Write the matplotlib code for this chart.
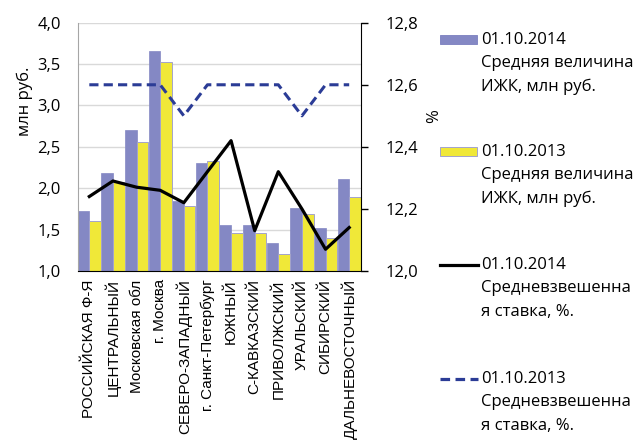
import matplotlib
matplotlib.use("Agg")
import matplotlib.pyplot as plt
import numpy as np
from matplotlib.patches import Rectangle
from matplotlib.lines import Line2D
from matplotlib.ticker import FuncFormatter

plt.rcParams['font.family'] = ['Open Sans', 'DejaVu Sans']

regions = ["РОССИЙСКАЯ Ф-Я", "ЦЕНТРАЛЬНЫЙ", "Московская обл", "г. Москва",
           "СЕВЕРО-ЗАПАДНЫЙ", "г. Санкт-Петербург", "ЮЖНЫЙ", "С-КАВКАЗСКИЙ",
           "ПРИВОЛЖСКИЙ", "УРАЛЬСКИЙ", "СИБИРСКИЙ", "ДАЛЬНЕВОСТОЧНЫЙ"]
size_2014 = [1.72, 2.18, 2.70, 3.66, 1.85, 2.30, 1.55, 1.56, 1.34, 1.76, 1.52, 2.11]
size_2013 = [1.61, 2.08, 2.56, 3.52, 1.79, 2.33, 1.46, 1.46, 1.21, 1.69, 1.40, 1.89]
rate_2014 = [12.24, 12.29, 12.27, 12.26, 12.22, 12.32, 12.42, 12.13, 12.32, 12.20, 12.07, 12.14]
rate_2013 = [12.6, 12.6, 12.6, 12.6, 12.5, 12.6, 12.6, 12.6, 12.6, 12.5, 12.6, 12.6]

BLUE = "#8488c4"
YELLOW = "#f0e838"
DASH = "#2b3c96"

W, H = 644, 447
fig = plt.figure(figsize=(W / 100, H / 100), dpi=100)
ax = fig.add_axes([77.5 / W, 1 - 271 / H, (361 - 77.5) / W, (271 - 22.7) / H])

x = np.arange(len(regions))
bw = 0.49
ax.bar(x - bw / 2, size_2014, bw, color=BLUE, edgecolor=BLUE, linewidth=0.5, zorder=2)
ax.bar(x + bw / 2, size_2013, bw, color=YELLOW, edgecolor="#a3a3cc", linewidth=0.7, zorder=2)

ax.set_xlim(-0.5, len(regions) - 0.5)
ax.set_ylim(1.0, 4.0)
ax.set_yticks(np.arange(1.0, 4.01, 0.5))
ax.yaxis.set_major_formatter(FuncFormatter(lambda v, p: f"{v:.1f}".replace(".", ",")))
ax.grid(axis="y", color="#d9d9d9", linewidth=1.0, zorder=0)
ax.set_axisbelow(True)
ax.tick_params(axis="y", length=0, pad=12, labelsize=12)
ax.set_xticks(x)
ax.set_xticklabels(regions, rotation=90, ha="center", va="top",
                   fontfamily="Liberation Sans", fontsize=11)
ax.tick_params(axis="x", length=0, pad=6)
ax.spines["top"].set_visible(False)
ax.spines["right"].set_visible(False)
ax.spines["left"].set_color("#a6a6a6")
ax.spines["bottom"].set_color("#000000")

ax2 = ax.twinx()
ax2.plot(x, rate_2014, color="black", linewidth=2.3, zorder=3)
ax2.plot(x, rate_2013, color=DASH, linewidth=2.2, dashes=(3, 1.7), zorder=3)
ax2.set_ylim(12.0, 12.8)
ax2.set_yticks(np.arange(12.0, 12.81, 0.2))
ax2.yaxis.set_major_formatter(FuncFormatter(lambda v, p: f"{v:.1f}".replace(".", ",")))
ax2.tick_params(axis="y", length=5, width=1, pad=13, labelsize=12, color="black")
for s in ["top", "left", "bottom"]:
    ax2.spines[s].set_visible(False)
ax2.spines["right"].set_color("black")

fig.text(25 / W, 1 - 101 / H, "млн руб.", rotation=90, ha="center", va="center", fontsize=12)
fig.text(434 / W, 1 - 116 / H, "%", rotation=90, ha="center", va="center", fontsize=12)

# legend drawn by hand so the key sits on the first text line
entries = [
    ("bar", BLUE, BLUE, 40, ["01.10.2014", "Средняя величина", "ИЖК, млн руб."]),
    ("bar", YELLOW, "#a3a3cc", 152, ["01.10.2013", "Средняя величина", "ИЖК, млн руб."]),
    ("solid", "black", None, 265, ["01.10.2014", "Средневзвешенна", "я ставка, %."]),
    ("dash", DASH, None, 379, ["01.10.2013", "Средневзвешенна", "я ставка, %."]),
]
for kind, col, ec, y0, lines in entries:
    if kind == "bar":
        fig.add_artist(Rectangle((440 / W, 1 - (y0 + 4) / H), 37 / W, 9 / H,
                                 facecolor=col, edgecolor=ec, linewidth=0.7,
                                 transform=fig.transFigure))
    else:
        ls = dict(dashes=(3, 1.7)) if kind == "dash" else {}
        fig.add_artist(Line2D([440 / W, 478 / W], [1 - y0 / H, 1 - y0 / H], color=col,
                              linewidth=2.3, transform=fig.transFigure, **ls))
    for i, t in enumerate(lines):
        fig.text(481 / W, 1 - (y0 + 23.3 * i) / H, t, ha="left", va="center", fontsize=12)

fig.savefig("out.png", dpi=100)
